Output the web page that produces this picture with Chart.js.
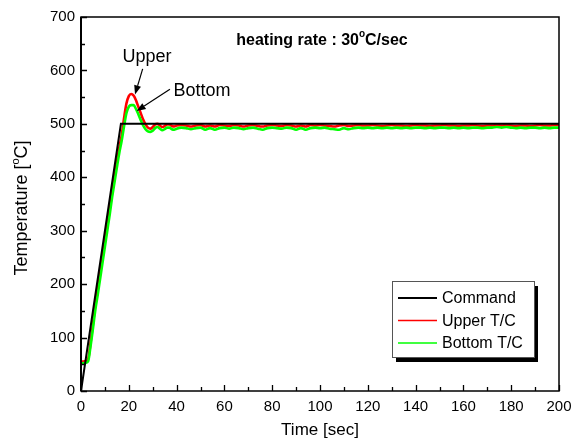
<!DOCTYPE html>
<html>
<head>
<meta charset="utf-8">
<script src="https://cdn.jsdelivr.net/npm/chart.js@4.4.1/dist/chart.umd.min.js"></script>
<style>
  html, body { margin: 0; padding: 0; background: #fff; }
  #wrap { width: 587px; height: 442px; position: relative; }
</style>
</head>
<body>
<div id="wrap"><canvas id="c" width="587" height="442"></canvas></div>
<script>
// Set-point profile: ramp at 30 °C/s to 500 °C, then hold
const commandTime = [0, 16.7, 200];
const commandTemp = [0, 500, 500];

// Thermocouple sample times [sec]
const sampleTime = [
  0, 1, 2, 3, 4, 5, 6, 7, 8, 9, 10, 11, 12, 13, 14, 15, 16, 17, 18, 19, 20,
  21, 22, 23, 24, 25, 26, 27, 28, 29, 30, 31, 32, 33, 34, 35, 36, 37, 38, 39, 40,
  42, 44, 46, 48, 50, 52, 54, 56, 58, 60, 62, 64, 66, 68, 70, 72, 74, 76, 78, 80,
  82, 84, 86, 88, 90, 92, 94, 96, 98, 100, 102, 104, 106, 108, 110, 112, 114, 116, 118, 120,
  122, 124, 126, 128, 130, 132, 134, 136, 138, 140, 142, 144, 146, 148, 150, 152, 154, 156, 158, 160,
  162, 164, 166, 168, 170, 172, 174, 176, 178, 180, 182, 184, 186, 188, 190, 192, 194, 196, 198, 200
];

// Upper thermocouple [°C]
const upperTemp = [
  55, 55, 56, 60, 90, 125, 162, 190, 220, 250, 280, 310, 340, 372, 400, 428, 455, 478, 510, 538, 552,
  556, 553, 544, 532, 520, 508, 499, 493, 491, 494, 499, 500, 497, 494, 496, 499, 499, 496, 495, 497,
  498, 497, 495, 497, 498, 495, 497, 495, 498, 497, 496, 498, 497, 495, 497, 498, 496, 495, 497, 498,
  497, 496, 498, 497, 495, 497, 495, 498, 497, 498, 497, 496, 495, 497, 498, 496, 497, 498, 497, 497,
  498, 497, 496, 497, 498, 497, 497, 496, 497, 498, 497, 497, 496, 497, 497, 498, 497, 497, 496, 497,
  497, 498, 497, 496, 497, 497, 498, 497, 498, 497, 496, 497, 497, 496, 497, 498, 497, 497, 498, 498
];

// Bottom thermocouple [°C]
const bottomTemp = [
  52, 52, 53, 56, 84, 117, 152, 180, 210, 240, 270, 300, 330, 362, 390, 418, 445, 468, 495, 520, 532,
  535, 535, 528, 518, 507, 497, 490, 486, 485, 487, 492, 494, 491, 488, 490, 493, 493, 490, 489, 491,
  493, 492, 490, 492, 493, 489, 492, 489, 492, 493, 491, 493, 492, 490, 492, 493, 491, 489, 492, 493,
  492, 491, 493, 492, 489, 492, 489, 492, 493, 492, 493, 491, 490, 489, 492, 490, 492, 493, 492, 493,
  492, 493, 492, 493, 492, 493, 492, 493, 492, 493, 493, 492, 493, 492, 493, 493, 492, 493, 492, 493,
  492, 493, 493, 492, 493, 493, 494, 493, 494, 493, 492, 493, 492, 493, 493, 492, 493, 492, 493, 493
];

// Axis ticks
const xTicks = [0, 20, 40, 60, 80, 100, 120, 140, 160, 180, 200];
const yTicks = [0, 100, 200, 300, 400, 500, 600, 700];

// Series names and colours
const seriesNames = ['Command', 'Upper T/C', 'Bottom T/C'];
const seriesColors = ['#000000', '#ff0000', '#00ff00'];

// Callouts near the overshoot peaks (data units)
const calloutText = ['Upper', 'Bottom'];
const calloutTextAt = [[27.6, 625], [50.6, 562]];
const calloutFrom = [[25.8, 603], [37.2, 565]];
const calloutTip = [[22.6, 555], [23.3, 524]];

const FONT = '"Liberation Sans", Arial, Helvetica, sans-serif';

function pairs(xs, ys) { return xs.map((v, i) => ({ x: v, y: ys[i] })); }

function arrow(ctx, x1, y1, x2, y2) {
  const ang = Math.atan2(y2 - y1, x2 - x1);
  const len = 9, half = 3.5;
  const bx = x2 - len * Math.cos(ang), by = y2 - len * Math.sin(ang);
  ctx.beginPath();
  ctx.moveTo(x1, y1);
  ctx.lineTo(bx, by);
  ctx.stroke();
  ctx.beginPath();
  ctx.moveTo(x2, y2);
  ctx.lineTo(bx + half * Math.sin(ang), by - half * Math.cos(ang));
  ctx.lineTo(bx - half * Math.sin(ang), by + half * Math.cos(ang));
  ctx.closePath();
  ctx.fill();
}

// Frame, inward ticks, titles, callouts and the boxed legend
const decor = {
  id: 'decor',
  afterDraw(chart) {
    const { ctx, chartArea: a, scales: { x, y } } = chart;
    ctx.save();
    ctx.strokeStyle = '#000';
    ctx.fillStyle = '#000';

    // plot frame
    ctx.lineWidth = 1.5;
    ctx.strokeRect(a.left, a.top, a.right - a.left, a.bottom - a.top);
    ctx.lineWidth = 2;
    ctx.beginPath(); ctx.moveTo(a.left, a.top); ctx.lineTo(a.left, a.bottom); ctx.stroke();

    // inward ticks: major at labels, minor halfway between
    ctx.lineWidth = 1.3;
    ctx.beginPath();
    for (let v = 0; v <= 200; v += 10) {
      const px = Math.round(x.getPixelForValue(v)) + 0.5;
      const L = (v % 20 === 0) ? 6 : 4;
      ctx.moveTo(px, a.bottom); ctx.lineTo(px, a.bottom - L);
    }
    for (let v = 0; v <= 700; v += 50) {
      const py = Math.round(y.getPixelForValue(v)) + 0.5;
      const L = (v % 100 === 0) ? 6 : 4;
      ctx.moveTo(a.left, py); ctx.lineTo(a.left + L, py);
    }
    ctx.stroke();

    // x-axis title
    ctx.font = '17px ' + FONT;
    ctx.textAlign = 'center';
    ctx.textBaseline = 'middle';
    ctx.fillText('Time [sec]', (a.left + a.right) / 2, 430);

    // y-axis title with superscript degree mark
    ctx.save();
    ctx.translate(21, (a.top + a.bottom) / 2 + 4);
    ctx.rotate(-Math.PI / 2);
    const f1 = '18px ' + FONT, fs = '11px ' + FONT;
    ctx.font = f1; const p1 = 'Temperature ['; const w1 = ctx.measureText(p1).width;
    ctx.font = fs; const ws = ctx.measureText('o').width;
    ctx.font = f1; const p2 = 'C]'; const w2 = ctx.measureText(p2).width;
    let sx = -(w1 + ws + w2) / 2;
    ctx.textAlign = 'left';
    ctx.textBaseline = 'alphabetic';
    ctx.font = f1; ctx.fillText(p1, sx, 6); sx += w1;
    ctx.font = fs; ctx.fillText('o', sx, -2); sx += ws;
    ctx.font = f1; ctx.fillText(p2, sx, 6);
    ctx.restore();

    // heading with superscript degree mark
    {
      const fb = 'bold 16px ' + FONT, fbs = 'bold 10px ' + FONT;
      ctx.font = fb; const t1 = 'heating rate : 30'; const a1 = ctx.measureText(t1).width;
      ctx.font = fbs; const as = ctx.measureText('o').width;
      ctx.font = fb; const t2 = 'C/sec'; const a2 = ctx.measureText(t2).width;
      let hx = 322 - (a1 + as + a2) / 2;
      const hy = 45;
      ctx.textAlign = 'left'; ctx.textBaseline = 'alphabetic';
      ctx.font = fb; ctx.fillText(t1, hx, hy); hx += a1;
      ctx.font = fbs; ctx.fillText('o', hx, hy - 8); hx += as;
      ctx.font = fb; ctx.fillText(t2, hx, hy);
    }

    // callouts
    ctx.font = '18px ' + FONT;
    ctx.textAlign = 'center';
    ctx.textBaseline = 'middle';
    ctx.lineWidth = 1.2;
    for (let i = 0; i < calloutText.length; i++) {
      ctx.fillText(calloutText[i], x.getPixelForValue(calloutTextAt[i][0]), y.getPixelForValue(calloutTextAt[i][1]));
      arrow(ctx,
        x.getPixelForValue(calloutFrom[i][0]), y.getPixelForValue(calloutFrom[i][1]),
        x.getPixelForValue(calloutTip[i][0]), y.getPixelForValue(calloutTip[i][1]));
    }

    // legend box with drop shadow
    const lx = 392, ly = 281, lw = 142, lh = 76;
    ctx.fillStyle = '#000';
    ctx.fillRect(lx + 4, ly + 5, lw, lh);
    ctx.fillStyle = '#fff';
    ctx.fillRect(lx, ly, lw, lh);
    ctx.strokeStyle = '#555';
    ctx.lineWidth = 1;
    ctx.strokeRect(lx + 0.5, ly + 0.5, lw, lh);
    ctx.font = '16px ' + FONT;
    ctx.textAlign = 'left';
    ctx.textBaseline = 'middle';
    for (let i = 0; i < seriesNames.length; i++) {
      const yy = ly + 17 + i * 22.5;
      ctx.strokeStyle = seriesColors[i];
      ctx.lineWidth = i === 0 ? 2 : 1.5;
      ctx.beginPath(); ctx.moveTo(lx + 6, yy); ctx.lineTo(lx + 45, yy); ctx.stroke();
      ctx.fillStyle = '#000';
      ctx.fillText(seriesNames[i], lx + 50, yy + 1);
    }
    ctx.restore();
  }
};

new Chart(document.getElementById('c'), {
  type: 'line',
  data: {
    datasets: [
      {
        label: seriesNames[0], data: pairs(commandTime, commandTemp),
        borderColor: seriesColors[0], borderWidth: 2, pointRadius: 0, tension: 0, order: 1
      },
      {
        label: seriesNames[1], data: pairs(sampleTime, upperTemp),
        borderColor: seriesColors[1], borderWidth: 2.6, pointRadius: 0,
        cubicInterpolationMode: 'monotone', order: 3
      },
      {
        label: seriesNames[2], data: pairs(sampleTime, bottomTemp),
        borderColor: seriesColors[2], borderWidth: 2.6, pointRadius: 0,
        cubicInterpolationMode: 'monotone', order: 2
      }
    ]
  },
  options: {
    responsive: false,
    animation: false,
    events: [],
    layout: { padding: { left: 0, top: 17, right: 28, bottom: 0 } },
    plugins: { legend: { display: false }, tooltip: { enabled: false }, title: { display: false } },
    scales: {
      x: {
        type: 'linear', min: 0, max: 200,
        afterBuildTicks: s => { s.ticks = xTicks.map(v => ({ value: v })); },
        afterFit: s => { s.height = 51; },
        grid: { display: false, drawTicks: false },
        border: { display: false },
        ticks: { color: '#000', padding: 7, maxRotation: 0, autoSkip: false, font: { family: FONT, size: 15 } }
      },
      y: {
        type: 'linear', min: 0, max: 700,
        afterBuildTicks: s => { s.ticks = yTicks.map(v => ({ value: v })); },
        afterFit: s => { s.width = 81; },
        grid: { display: false, drawTicks: false },
        border: { display: false },
        ticks: { color: '#000', padding: 6, autoSkip: false, font: { family: FONT, size: 15 } }
      }
    }
  },
  plugins: [decor]
});
</script>
</body>
</html>
